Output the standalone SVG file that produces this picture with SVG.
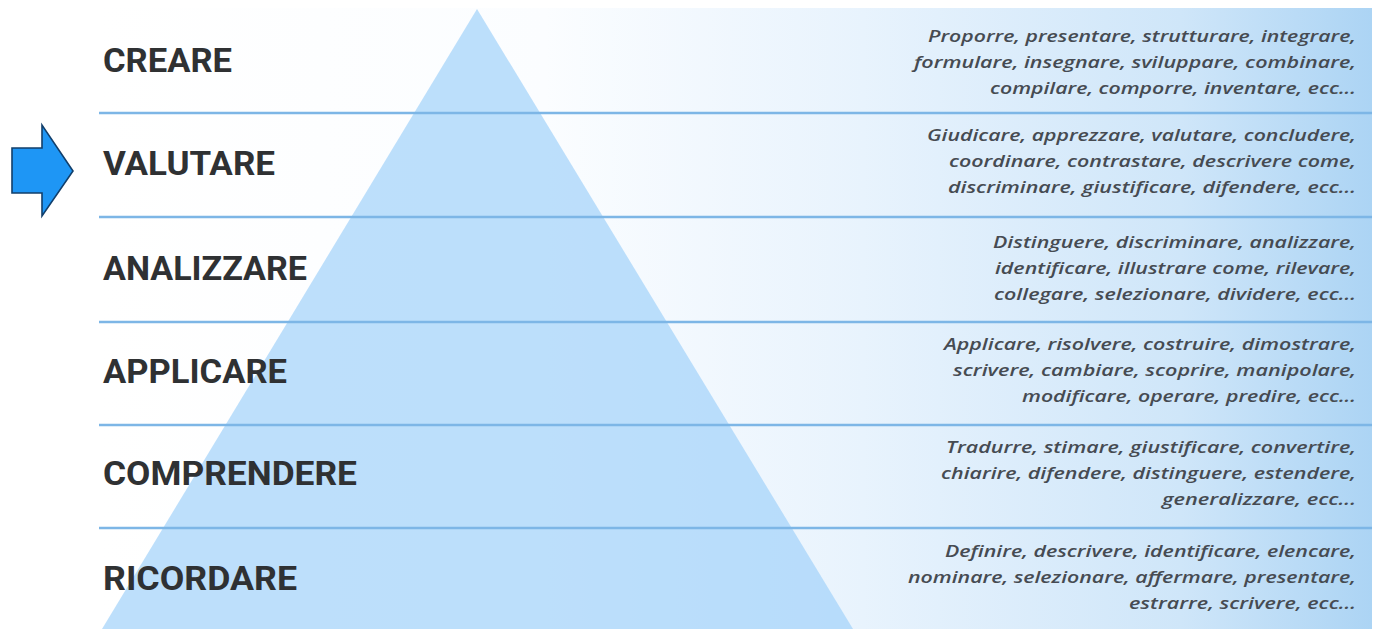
<svg xmlns="http://www.w3.org/2000/svg" width="1377" height="629" viewBox="0 0 1377 629">
<defs>
<linearGradient id="bg" x1="99" y1="0" x2="1372" y2="0" gradientUnits="userSpaceOnUse">
<stop offset="0" stop-color="#ffffff"/>
<stop offset="0.35" stop-color="#fbfdff"/>
<stop offset="0.6" stop-color="#e8f3fd"/>
<stop offset="0.85" stop-color="#cfe6f9"/>
<stop offset="1" stop-color="#acd4f4"/>
</linearGradient>
<style>
.lbl{font-family:Roboto,"Liberation Sans",sans-serif;font-weight:bold;font-size:33px;fill:#2f3133}
.desc{font-family:"Open Sans","Liberation Sans",sans-serif;font-style:italic;font-weight:600;font-size:16.5px;fill:#464b52;text-anchor:end}
.sep{stroke:#7db6e6;stroke-width:2.4;fill:none}
</style>
</defs>
<rect width="1377" height="629" fill="#ffffff"/>
<rect x="99" y="8" width="1273" height="621" fill="url(#bg)"/>
<polygon id="pyramid" points="477,9 853,629 102,629" fill="#a3d2fa" opacity="0.72"/>
<g id="separators">
<line class="sep" x1="99" y1="113" x2="1372" y2="113"/>
<line class="sep" x1="99" y1="217" x2="1372" y2="217"/>
<line class="sep" x1="99" y1="322" x2="1372" y2="322"/>
<line class="sep" x1="99" y1="425" x2="1372" y2="425"/>
<line class="sep" x1="99" y1="528" x2="1372" y2="528"/>
</g>
<g id="creare">
<text class="lbl" x="103" y="72" textLength="129" lengthAdjust="spacingAndGlyphs">CREARE</text>
<text class="desc" x="1356" y="42" textLength="428" lengthAdjust="spacingAndGlyphs">Proporre, presentare, strutturare, integrare,</text>
<text class="desc" x="1356" y="68" textLength="442" lengthAdjust="spacingAndGlyphs">formulare, insegnare, sviluppare, combinare,</text>
<text class="desc" x="1356" y="94" textLength="366" lengthAdjust="spacingAndGlyphs">compilare, comporre, inventare, ecc...</text>
</g>
<g id="valutare">
<text class="lbl" x="103" y="175" textLength="172" lengthAdjust="spacingAndGlyphs">VALUTARE</text>
<text class="desc" x="1356" y="141" textLength="429" lengthAdjust="spacingAndGlyphs">Giudicare, apprezzare, valutare, concludere,</text>
<text class="desc" x="1356" y="167" textLength="407" lengthAdjust="spacingAndGlyphs">coordinare, contrastare, descrivere come,</text>
<text class="desc" x="1356" y="193" textLength="408" lengthAdjust="spacingAndGlyphs">discriminare, giustificare, difendere, ecc...</text>
</g>
<g id="analizzare">
<text class="lbl" x="103" y="280" textLength="204" lengthAdjust="spacingAndGlyphs">ANALIZZARE</text>
<text class="desc" x="1356" y="248" textLength="363" lengthAdjust="spacingAndGlyphs">Distinguere, discriminare, analizzare,</text>
<text class="desc" x="1356" y="274" textLength="361" lengthAdjust="spacingAndGlyphs">identificare, illustrare come, rilevare,</text>
<text class="desc" x="1356" y="300" textLength="362" lengthAdjust="spacingAndGlyphs">collegare, selezionare, dividere, ecc...</text>
</g>
<g id="applicare">
<text class="lbl" x="103" y="383" textLength="184" lengthAdjust="spacingAndGlyphs">APPLICARE</text>
<text class="desc" x="1356" y="350" textLength="412" lengthAdjust="spacingAndGlyphs">Applicare, risolvere, costruire, dimostrare,</text>
<text class="desc" x="1356" y="376" textLength="403" lengthAdjust="spacingAndGlyphs">scrivere, cambiare, scoprire, manipolare,</text>
<text class="desc" x="1356" y="402" textLength="334" lengthAdjust="spacingAndGlyphs">modificare, operare, predire, ecc...</text>
</g>
<g id="comprendere">
<text class="lbl" x="103" y="485" textLength="254" lengthAdjust="spacingAndGlyphs">COMPRENDERE</text>
<text class="desc" x="1356" y="453" textLength="410" lengthAdjust="spacingAndGlyphs">Tradurre, stimare, giustificare, convertire,</text>
<text class="desc" x="1356" y="479" textLength="415" lengthAdjust="spacingAndGlyphs">chiarire, difendere, distinguere, estendere,</text>
<text class="desc" x="1356" y="505" textLength="194" lengthAdjust="spacingAndGlyphs">generalizzare, ecc...</text>
</g>
<g id="ricordare">
<text class="lbl" x="103" y="590" textLength="194" lengthAdjust="spacingAndGlyphs">RICORDARE</text>
<text class="desc" x="1356" y="557" textLength="411" lengthAdjust="spacingAndGlyphs">Definire, descrivere, identificare, elencare,</text>
<text class="desc" x="1356" y="583" textLength="448" lengthAdjust="spacingAndGlyphs">nominare, selezionare, affermare, presentare,</text>
<text class="desc" x="1356" y="609" textLength="227" lengthAdjust="spacingAndGlyphs">estrarre, scrivere, ecc...</text>
</g>
<g id="arrow">
<polygon points="12,148 42,148 42,125 73,171 42,216 42,193 12,193" fill="#1e96f5" stroke="#123f6b" stroke-width="1.6" stroke-linejoin="miter"/>
</g>
</svg>
